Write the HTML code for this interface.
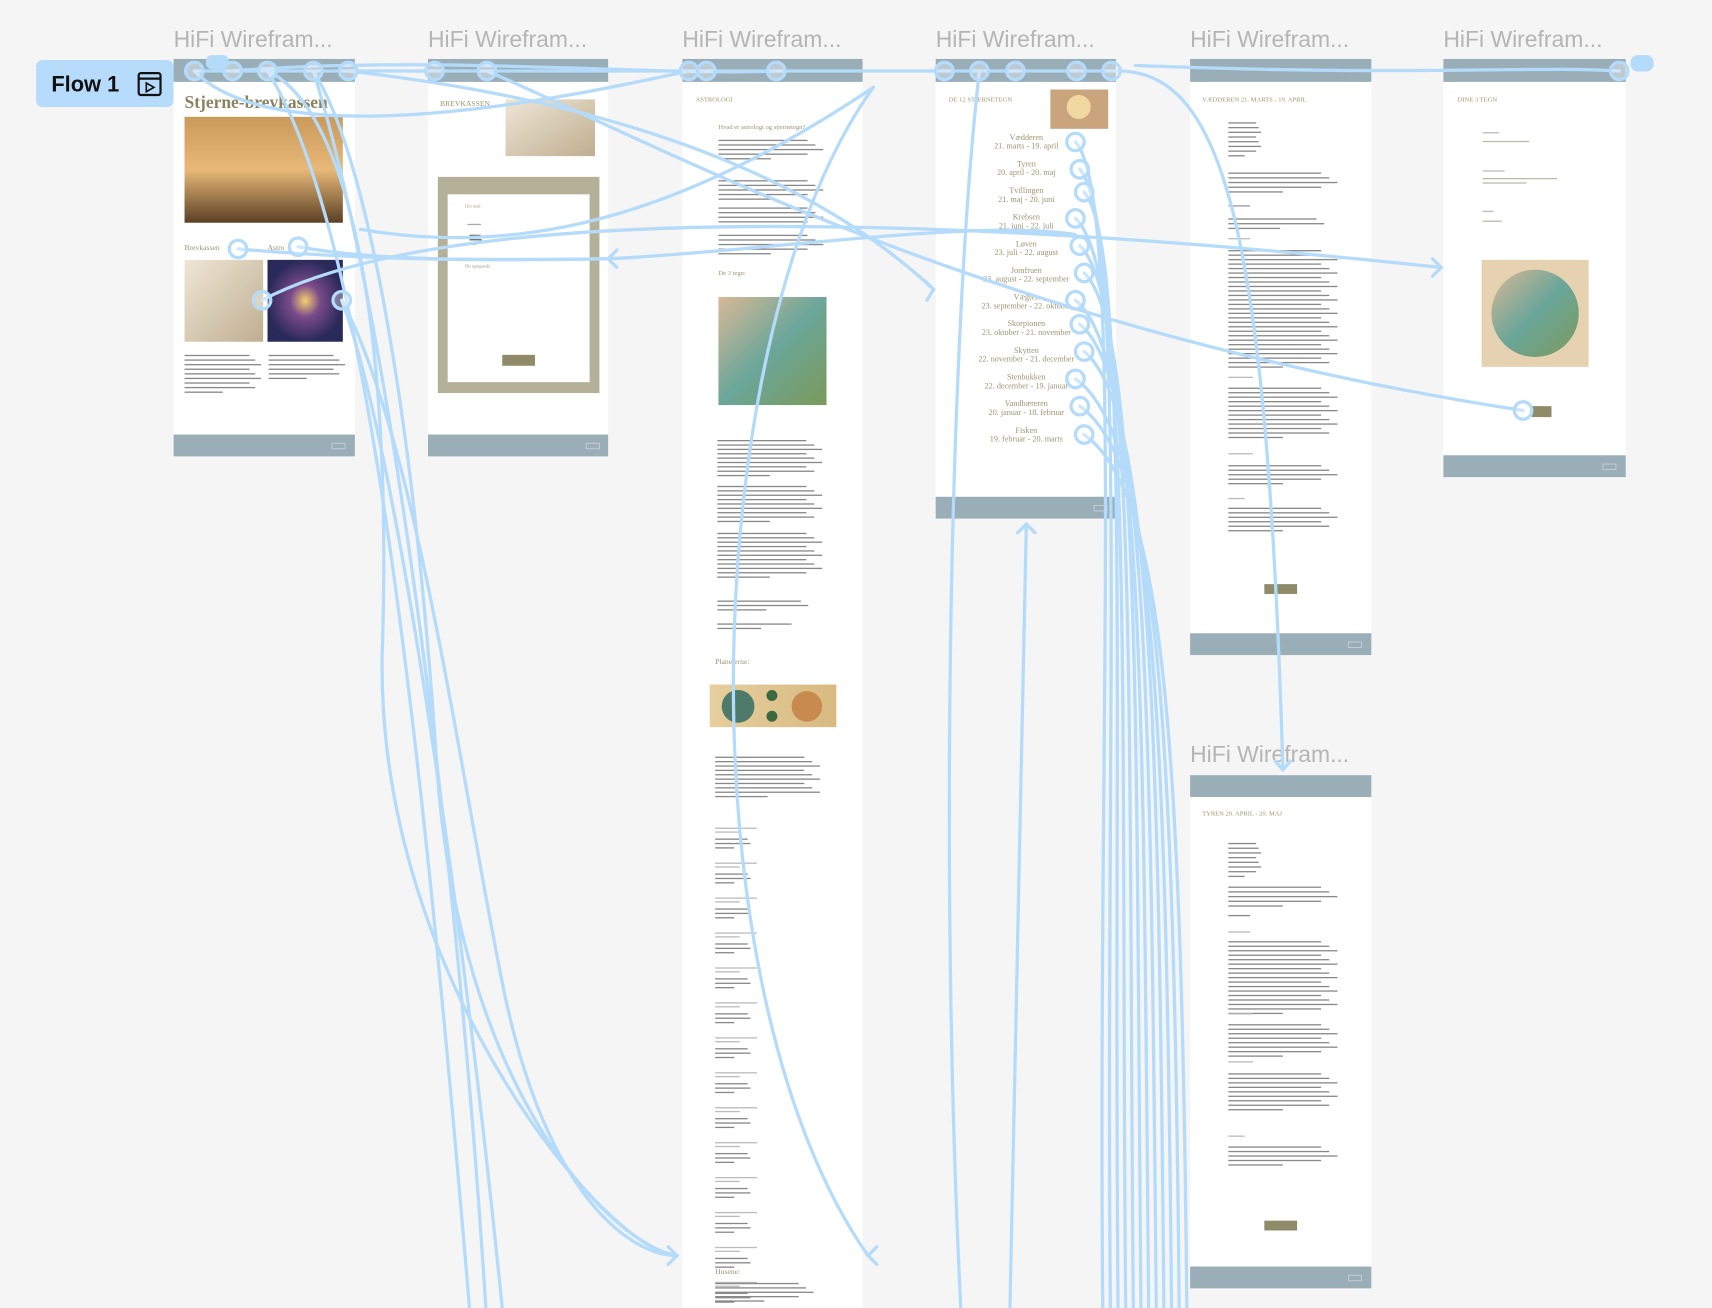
<!DOCTYPE html>
<html><head><meta charset="utf-8">
<style>
html,body{margin:0;padding:0;background:#f5f5f5;}
svg{display:block;}
text{font-family:"Liberation Serif",serif;}
.t text{font-family:"Liberation Sans",sans-serif;fill:#b5b5b5;font-size:21px;}
.h{fill:#9b9572;font-size:7px;}
.s{fill:#9b9572;font-size:7.5px;text-anchor:middle;}
</style></head><body>
<svg id="svg" width="1712" height="1308" viewBox="0 0 1568 1198" xmlns="http://www.w3.org/2000/svg">
<defs>
<linearGradient id="g1" x1="0" y1="0" x2="0" y2="1"><stop offset="0" stop-color="#c99a5a"/><stop offset=".5" stop-color="#e8b878"/><stop offset="1" stop-color="#5a4024"/></linearGradient>
<linearGradient id="g2" x1="0" y1="0" x2="1" y2="1"><stop offset="0" stop-color="#efe6d6"/><stop offset="1" stop-color="#bfae90"/></linearGradient>
<radialGradient id="g3"><stop offset="0" stop-color="#f6d070"/><stop offset=".4" stop-color="#7a4a8a"/><stop offset="1" stop-color="#2a2a5a"/></radialGradient>
<linearGradient id="g4" x1="0" y1="0" x2="1" y2="1"><stop offset="0" stop-color="#d9b896"/><stop offset=".5" stop-color="#6aa69a"/><stop offset="1" stop-color="#7c9a5a"/></linearGradient>
<linearGradient id="g5" x1="0" y1="0" x2="1" y2="0"><stop offset="0" stop-color="#e6cf9e"/><stop offset="1" stop-color="#d8b980"/></linearGradient>
</defs>
<g class="t">
<text x="159" y="43">HiFi Wirefram...</text>
<text x="392" y="43">HiFi Wirefram...</text>
<text x="625" y="43">HiFi Wirefram...</text>
<text x="857" y="43">HiFi Wirefram...</text>
<text x="1090" y="43">HiFi Wirefram...</text>
<text x="1322" y="43">HiFi Wirefram...</text>
<text x="1090" y="698">HiFi Wirefram...</text>
</g>
<rect x="33" y="55" width="126" height="43" rx="6" fill="#b7dcfb"/>
<text x="47" y="84" style="font-family:'Liberation Sans',sans-serif;font-size:20px;font-weight:bold;fill:#111">Flow 1</text>
<rect x="127" y="67" width="20" height="20" rx="2" fill="none" stroke="#111" stroke-width="2"/>
<line x1="127" y1="72" x2="147" y2="72" stroke="#111" stroke-width="2"/>
<path d="M134 76 L141 80 L134 84 Z" fill="none" stroke="#111" stroke-width="1.5"/>

<rect x="159" y="54" width="166" height="364" fill="#fff"/>
<rect x="159" y="54" width="166" height="21" fill="#9aaeb8"/>
<rect x="159" y="398" width="166" height="20" fill="#9aaeb8"/>
<text x="169" y="99" style="font-size:16px;font-weight:bold;fill:#8a8360">Stjerne-brevkassen</text>
<rect x="169" y="107" width="145" height="97" fill="url(#g1)"/>
<text x="169" y="229" class="h">Brevkassen</text><text x="245" y="229" class="h">Astro</text>
<rect x="169" y="238" width="72" height="75" fill="url(#g2)"/>
<rect x="245" y="238" width="69" height="75" fill="url(#g3)"/>

<rect x="392" y="54" width="165" height="364" fill="#fff"/>
<rect x="392" y="54" width="165" height="21" fill="#9aaeb8"/>
<rect x="392" y="398" width="165" height="20" fill="#9aaeb8"/>
<text x="403" y="97" class="h">BREVKASSEN</text>
<rect x="463" y="91" width="82" height="52" fill="url(#g2)"/>
<rect x="401" y="162" width="148" height="198" fill="#b5b198"/>
<rect x="410" y="178" width="130" height="172" fill="#fff"/>
<rect x="460" y="325" width="30" height="10" fill="#8f8a68"/>
<text x="426" y="190" style="font-size:4px;fill:#9b9572">Din mail:</text>
<text x="426" y="245" style="font-size:4px;fill:#9b9572">Dit spørgsmål:</text>

<rect x="625" y="54" width="165" height="1144" fill="#fff"/>
<rect x="625" y="54" width="165" height="21" fill="#9aaeb8"/>
<text x="637" y="93" style="font-size:6px;fill:#9b9572">ASTROLOGI</text>
<text x="658" y="118" style="font-size:6px;fill:#9b9572">Hvad er astrologi og stjernetegn?</text>
<text x="658" y="252" style="font-size:6px;fill:#9b9572">De 3 tegn:</text>
<rect x="658" y="272" width="99" height="99" fill="url(#g4)"/>
<text x="655" y="608" style="font-size:7px;fill:#9b9572">Planeterne:</text>
<rect x="650" y="627" width="116" height="39" fill="url(#g5)"/>
<circle cx="676" cy="647" r="15" fill="#4e7a6a"/><circle cx="707" cy="637" r="5" fill="#3c6a40"/><circle cx="707" cy="656" r="5" fill="#3c6a40"/><circle cx="739" cy="647" r="14" fill="#c98a50"/>
<text x="655" y="1167" style="font-size:7px;fill:#9b9572">Husene:</text>

<rect x="857" y="54" width="165" height="421" fill="#fff"/>
<rect x="857" y="54" width="165" height="21" fill="#9aaeb8"/>
<rect x="857" y="455" width="165" height="20" fill="#9aaeb8"/>
<text x="869" y="93" style="font-size:6px;fill:#9b9572">DE 12 STJERNETEGN</text>
<rect x="962" y="82" width="53" height="36" fill="#c9a47c"/>
<circle cx="988" cy="98" r="11" fill="#f0d8a0"/>
<g id="signs"></g>

<rect x="1090" y="54" width="166" height="546" fill="#fff"/>
<rect x="1090" y="54" width="166" height="21" fill="#9aaeb8"/>
<rect x="1090" y="580" width="166" height="20" fill="#9aaeb8"/>
<text x="1101" y="93" style="font-size:6px;fill:#9b9572">VÆDDEREN 21. MARTS - 19. APRIL</text>
<rect x="1158" y="535" width="30" height="9" fill="#8f8a68"/>

<rect x="1090" y="710" width="166" height="470" fill="#fff"/>
<rect x="1090" y="710" width="166" height="20" fill="#9aaeb8"/>
<rect x="1090" y="1160" width="166" height="20" fill="#9aaeb8"/>
<text x="1101" y="747" style="font-size:6px;fill:#9b9572">TYREN 20. APRIL - 20. MAJ</text>
<rect x="1158" y="1118" width="30" height="9" fill="#8f8a68"/>

<rect x="1322" y="54" width="167" height="383" fill="#fff"/>
<rect x="1322" y="54" width="167" height="21" fill="#9aaeb8"/>
<rect x="1322" y="417" width="167" height="20" fill="#9aaeb8"/>
<text x="1335" y="93" style="font-size:6px;fill:#9b9572">DINE 3 TEGN</text>
<rect x="1357" y="238" width="98" height="98" fill="#e6d2b0"/>
<circle cx="1406" cy="287" r="40" fill="url(#g4)"/>
<rect x="1403" y="372" width="18" height="10" fill="#8f8a68"/>

<g id="txt"></g>
<g id="con" fill="none" stroke="#b4dbfa" stroke-width="3" stroke-linecap="round"></g>
</svg>
<script>
var NS="http://www.w3.org/2000/svg";
function el(p,n,a){var e=document.createElementNS(NS,n);for(var k in a)e.setAttribute(k,a[k]);document.getElementById(p).appendChild(e);return e;}
function lines(x,y,w,n,gap,c){for(var i=0;i<n;i++){var ww=w*(i==n-1?0.5:(0.85+0.15*((i*7)%3)/2));el("txt","rect",{x:x,y:y+i*gap,width:ww,height:1.2,fill:c||"#888"});}}
lines(169,325,70,9,4.2);lines(246,325,70,6,4.2);
lines(428,205,25,1,4,"#aaa");lines(430,215,12,3,4,"#666");
lines(658,128,96,5,4.2);lines(658,165,96,5,4.2);lines(658,190,96,5,4.2);lines(658,215,96,5,4.2);
lines(657,403,96,9,4);lines(657,445,96,9,4);lines(657,488,96,11,4);lines(657,550,90,3,4);lines(657,571,80,2,4);
lines(655,693,96,10,4);
var y=758;for(var i=0;i<14;i++){lines(655,y,45,2,3.5,"#bbb");lines(655,y+10,35,3,4);y+=32;}
lines(655,1175,90,5,4);
var s=[["Vædderen","21. marts - 19. april"],["Tyren","20. april - 20. maj"],["Tvillingen","21. maj - 20. juni"],["Krebsen","21. juni - 22. juli"],["Løven","23. juli - 22. august"],["Jomfruen","23. august - 22. september"],["Vægten","23. september - 22. oktober"],["Skorpionen","23. oktober - 21. november"],["Skytten","22. november - 21. december"],["Stenbukken","22. december - 19. januar"],["Vandbæreren","20. januar - 18. februar"],["Fisken","19. februar - 20. marts"]];
s.forEach(function(a,i){var yy=128+i*24.4;var t=el("signs","text",{x:940,y:yy,"class":"s"});t.textContent=a[0];var t2=el("signs","text",{x:940,y:yy+8,"class":"s"});t2.textContent=a[1];});
lines(1125,112,30,8,4.3);lines(1125,158,100,5,4.3);lines(1125,188,40,1,4,"#999");lines(1125,200,95,3,4.3);lines(1125,218,40,1,4,"#bbb");
lines(1125,229,100,27,4.1);lines(1125,345,45,1,4,"#bbb");lines(1125,355,100,12,4.1);lines(1125,415,45,1,4,"#bbb");lines(1125,426,100,5,4.1);lines(1125,456,30,1,4,"#bbb");lines(1125,465,100,6,4.1);
lines(1125,772,30,8,4.3);lines(1125,812,100,5,4.3);lines(1125,838,40,1,4);lines(1125,853,40,1,4,"#bbb");lines(1125,862,100,17,4.1);lines(1125,928,45,1,4,"#bbb");lines(1125,938,100,8,4.1);lines(1125,972,45,1,4,"#bbb");lines(1125,983,100,9,4.1);lines(1125,1040,30,1,4,"#bbb");lines(1125,1050,100,5,4.1);
lines(1358,121,30,1,4,"#bbb");lines(1358,129,85,1,4,"#bba");lines(1358,156,40,1,4,"#bbb");lines(1358,163,80,2,4,"#bba");lines(1358,193,20,1,4,"#bbb");lines(1358,202,35,1,4,"#bba");
[[304,406],[537,406],[1002,463],[1235,588],[1468,425],[1235,1168]].forEach(function(p){el("txt","rect",{x:p[0],y:p[1],width:12,height:5,fill:"none",stroke:"#ccd","stroke-width":0.8});});
var P=["M178 65 L1018 65","M178 65 C260 150 560 80 631 65","M213 65 C400 50 600 70 711 65","M319 65 C450 80 700 120 855 265","M245 65 C320 100 360 300 350 600 C345 900 560 1150 620 1150",
"M287 65 C340 150 380 400 400 700 C420 1000 560 1140 620 1150","M313 275 C380 400 420 700 460 900 C500 1100 580 1150 620 1150",
"M245 65 C330 200 380 600 430 1198","M287 65 C360 300 420 800 445 1198","M313 275 C360 400 420 800 460 1198",
"M240 275 C420 180 900 200 1320 245","M218 228 C300 235 400 240 557 237","M273 226 C350 240 450 238 557 237",
"M800 80 C640 300 620 900 795 1150","M557 237 C700 230 900 200 985 215","M446 65 C600 130 900 300 1395 376","M940 480 L925 1198",
"M1018 65 C1120 60 1160 200 1175 705","M897 65 C870 300 860 800 880 1198","M330 210 C500 240 650 180 800 80",
"M1483 65 C1400 60 1300 70 1040 60"];
var ys=[130,155,176,200,225,250,275,297,322,347,372,398];
ys.forEach(function(y,i){var x=985+(i%3)*4;var ex=1010+i*7;P.push("M"+x+" "+y+" C"+(1030+i*3)+" "+(y+50)+" "+(ex-5)+" 650 "+ex+" 1198");});
P.forEach(function(d){el("con","path",{d:d});});
var ar=["M612 1142 L620 1150 L612 1158","M565 229 L557 237 L565 245","M1312 237 L1320 245 L1312 253","M847 257 L855 265 L849 275","M932 488 L940 480 L948 488","M803 1142 L795 1150 L803 1158","M1168 697 L1175 705 L1182 697"];
ar.forEach(function(d){el("con","path",{d:d});});
var C=[[178,65],[213,65],[245,65],[287,65],[319,65],[398,65],[446,65],[631,65],[647,65],[711,65],[865,65],[897,65],[930,65],[986,65],[1018,65],[1483,65],[218,228],[273,226],[240,275],[313,275],[1395,376]];
ys.forEach(function(y,i){C.push([985+(i%3)*4,y]);});
C.forEach(function(c){el("con","circle",{cx:c[0],cy:c[1],r:8,fill:"rgba(255,255,255,0.35)"});});
el("con","rect",{x:1495,y:52,width:18,height:12,rx:5,fill:"#b4dbfa"});
el("con","rect",{x:190,y:52,width:18,height:10,rx:4,fill:"#b4dbfa"});
</script>
</body></html>
